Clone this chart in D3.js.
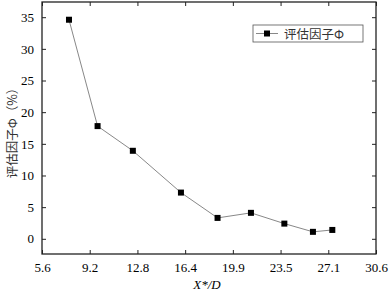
<!DOCTYPE html>
<html>
<head>
<meta charset="utf-8">
<script src="https://cdn.jsdelivr.net/npm/d3@7"></script>
<style>
  body { margin: 0; background: #fff; }
  svg { display: block; }
  .tick text { font-family: "Liberation Serif", "Times New Roman", serif; font-size: 13px; fill: #000; }
  .domain { display: none; }
  .tick line { stroke: #222; stroke-width: 1; }
</style>
</head>
<body>
<div id="chart"></div>
<script>
const xValues = [7.62, 9.76, 12.4, 16.0, 18.74, 21.24, 23.74, 25.88, 27.33];
const phiValues = [34.6, 17.8, 13.9, 7.3, 3.3, 4.1, 2.4, 1.1, 1.4];
const xTickLabels = ["5.6", "9.2", "12.8", "16.4", "19.9", "23.5", "27.1", "30.6"];
const yTicks = [0, 5, 10, 15, 20, 25, 30, 35];

const width = 390;
const height = 295;
const margin = { top: 2, right: 14, bottom: 41, left: 42 };

const svg = d3.select("#chart").append("svg").attr("width", width).attr("height", height);

const x = d3.scaleLinear().domain([5.6, 30.6]).range([margin.left, width - margin.right]);
const y = d3.scaleLinear().domain([-2.4, 37.4]).range([height - margin.bottom, margin.top]);

const xTickValues = xTickLabels.map((_, i) => 5.6 + (25 / 7) * i);
const fmtX = (d) => xTickLabels[xTickValues.indexOf(d)];

// ticks point inward on every side
svg.append("g")
  .attr("transform", `translate(0,${height - margin.bottom})`)
  .call(d3.axisBottom(x).tickValues(xTickValues).tickSizeInner(-4).tickSizeOuter(0).tickPadding(9).tickFormat(fmtX));
svg.append("g")
  .attr("transform", `translate(0,${margin.top})`)
  .call(d3.axisTop(x).tickValues(xTickValues).tickSizeInner(-4).tickSizeOuter(0).tickFormat(""));
svg.append("g")
  .attr("transform", `translate(${margin.left},0)`)
  .call(d3.axisLeft(y).tickValues(yTicks).tickSizeInner(-4).tickSizeOuter(0).tickPadding(8));
svg.append("g")
  .attr("transform", `translate(${width - margin.right},0)`)
  .call(d3.axisRight(y).tickValues(yTicks).tickSizeInner(-4).tickSizeOuter(0).tickFormat(""));

svg.append("rect")
  .attr("x", margin.left)
  .attr("y", margin.top)
  .attr("width", width - margin.left - margin.right)
  .attr("height", height - margin.top - margin.bottom)
  .attr("fill", "none")
  .attr("stroke", "#222")
  .attr("stroke-width", 1.3);

const points = xValues.map((v, i) => ({ x: v, y: phiValues[i] }));

svg.append("path")
  .datum(points)
  .attr("fill", "none")
  .attr("stroke", "#888")
  .attr("stroke-width", 1)
  .attr("d", d3.line().x((d) => x(d.x)).y((d) => y(d.y)));

svg.append("g")
  .selectAll("rect")
  .data(points)
  .join("rect")
  .attr("x", (d) => x(d.x) - 3)
  .attr("y", (d) => y(d.y) - 3)
  .attr("width", 6)
  .attr("height", 6)
  .attr("fill", "#000");

// legend
const legend = svg.append("g").attr("transform", "translate(253,25)");
legend.append("rect").attr("width", 110).attr("height", 17).attr("fill", "#fff").attr("stroke", "#555").attr("stroke-width", 0.8);
legend.append("line").attr("x1", 3).attr("x2", 25).attr("y1", 8.5).attr("y2", 8.5).attr("stroke", "#888");
legend.append("rect").attr("x", 11).attr("y", 5.5).attr("width", 6).attr("height", 6).attr("fill", "#000");
legend.append("text")
  .attr("x", 31)
  .attr("y", 13.5)
  .style("font-family", "'Noto Sans CJK SC', sans-serif")
  .style("font-size", "12.5px")
  .attr("fill", "#333")
  .text("评估因子Φ");

svg.append("text")
  .attr("transform", `translate(17,${(margin.top + height - margin.bottom) / 2 + 2}) rotate(-90)`)
  .attr("text-anchor", "middle")
  .style("font-family", "'Noto Sans CJK SC', sans-serif")
  .style("font-size", "12.5px")
  .attr("fill", "#333")
  .text("评估因子Φ（%）");

svg.append("text")
  .attr("x", 207)
  .attr("y", 289)
  .attr("text-anchor", "middle")
  .style("font-family", "'Liberation Serif', serif")
  .style("font-style", "italic")
  .style("font-size", "13px")
  .text("X*/D");
</script>
</body>
</html>
